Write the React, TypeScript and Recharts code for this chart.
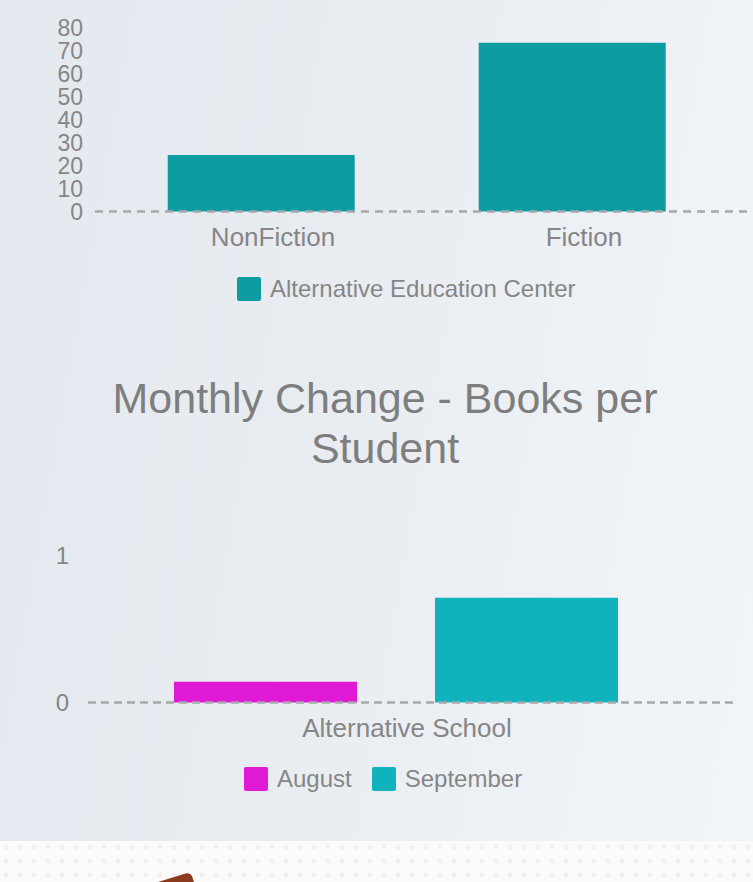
import { Bar, BarChart, Legend, XAxis, YAxis } from 'recharts'

const bookCategories = ['NonFiction', 'Fiction']
const aecBooks = [24.6, 73.6]
const bookTicks = [0, 10, 20, 30, 40, 50, 60, 70, 80]

const schools = ['Alternative School']
const augustChange = [0.14]
const septemberChange = [0.71]
const changeTicks = [0, 1]

const FONT = '"Liberation Sans", Arial, Helvetica, sans-serif'
const GREY = '#868686'

const booksData = bookCategories.map((cat, i) => ({
  cat,
  'Alternative Education Center': aecBooks[i],
}))

const changeData = schools.map((school, i) => ({
  school,
  August: augustChange[i],
  September: septemberChange[i],
}))

function SquareLegend({ payload, padLeft }: { payload?: any[]; padLeft: number }) {
  return (
    <div style={{ display: 'flex', alignItems: 'center', height: 24, paddingLeft: padLeft, gap: 20 }}>
      {(payload ?? []).map((entry) => (
        <div key={entry.value} style={{ display: 'flex', alignItems: 'center' }}>
          <span
            style={{
              display: 'inline-block',
              width: 24,
              height: 24,
              borderRadius: 2,
              background: entry.color,
              marginRight: 9,
            }}
          />
          <span style={{ fontSize: 24, color: GREY, fontFamily: FONT, lineHeight: '24px' }}>{entry.value}</span>
        </div>
      ))}
    </div>
  )
}

export default function App() {
  return (
    <div
      style={{
        position: 'absolute',
        left: 0,
        top: 0,
        width: 753,
        height: 882,
        overflow: 'hidden',
        fontFamily: FONT,
        background: 'linear-gradient(100deg, #e4e9ef 0%, #e9edf2 45%, #f2f5f8 100%)',
      }}
    >
      <div style={{ position: 'absolute', left: 0, top: 0 }}>
        <BarChart
          width={753}
          height={301}
          data={booksData}
          barCategoryGap="20%"
          margin={{ top: 28, right: 0, bottom: 0, left: 0 }}
        >
          <XAxis
            dataKey="cat"
            padding={{ left: 10.5, right: 25.5 }}
            height={65.5}
            tickLine={false}
            tickMargin={10.5}
            tick={{ fill: GREY, fontSize: 26, fontFamily: FONT, dx: 12 }}
            axisLine={{ stroke: '#a6a8ab', strokeWidth: 2.5, strokeDasharray: '8 6' }}
          />
          <YAxis
            width={95}
            domain={[0, 80]}
            ticks={bookTicks}
            interval={0}
            axisLine={false}
            tickLine={false}
            tickMargin={6}
            tick={{ fill: GREY, fontSize: 23, fontFamily: FONT }}
          />
          <Legend verticalAlign="bottom" content={(p: any) => <SquareLegend payload={p.payload} padLeft={237} />} />
          <Bar dataKey="Alternative Education Center" fill="#0e9ca3" isAnimationActive={false} />
        </BarChart>
      </div>

      <div
        style={{
          position: 'absolute',
          left: 95,
          top: 373,
          width: 580,
          textAlign: 'center',
          fontSize: 43,
          lineHeight: '50px',
          color: '#7e7e7e',
        }}
      >
        Monthly Change - Books per Student
      </div>

      <div style={{ position: 'absolute', left: 0, top: 500 }}>
        <BarChart
          width={753}
          height={291}
          data={changeData}
          barSize={183}
          barGap={78}
          margin={{ top: 55, right: 20, bottom: 0, left: 0 }}
        >
          <XAxis
            dataKey="school"
            padding={{ left: 0, right: 29 }}
            height={64.5}
            tickLine={false}
            tickMargin={10}
            tick={{ fill: GREY, fontSize: 26, fontFamily: FONT, dx: 11 }}
            axisLine={{ stroke: '#a6a8ab', strokeWidth: 2.5, strokeDasharray: '8 5' }}
          />
          <YAxis
            width={88}
            domain={[0, 1]}
            ticks={changeTicks}
            interval={0}
            axisLine={false}
            tickLine={false}
            tickMargin={13}
            tick={{ fill: GREY, fontSize: 24, fontFamily: FONT }}
          />
          <Legend verticalAlign="bottom" content={(p: any) => <SquareLegend payload={p.payload} padLeft={244} />} />
          <Bar dataKey="August" fill="#df19d6" isAnimationActive={false} />
          <Bar dataKey="September" fill="#10b3bc" isAnimationActive={false} />
        </BarChart>
      </div>

      {/* page footer strip under the charts */}
      <div
        style={{
          position: 'absolute',
          left: 0,
          top: 841,
          width: 753,
          height: 41,
          background: 'radial-gradient(circle at 6px 6px, #f1f1f1 2px, #fbfbfb 3px) 0 0 / 14px 14px',
        }}
      />
      <svg style={{ position: 'absolute', left: 0, top: 841 }} width={753} height={41}>
        <path d="M158 41 L184 33 Q190 31 192 35 L194 41 Z" fill="#8c3a1e" />
      </svg>
    </div>
  )
}
